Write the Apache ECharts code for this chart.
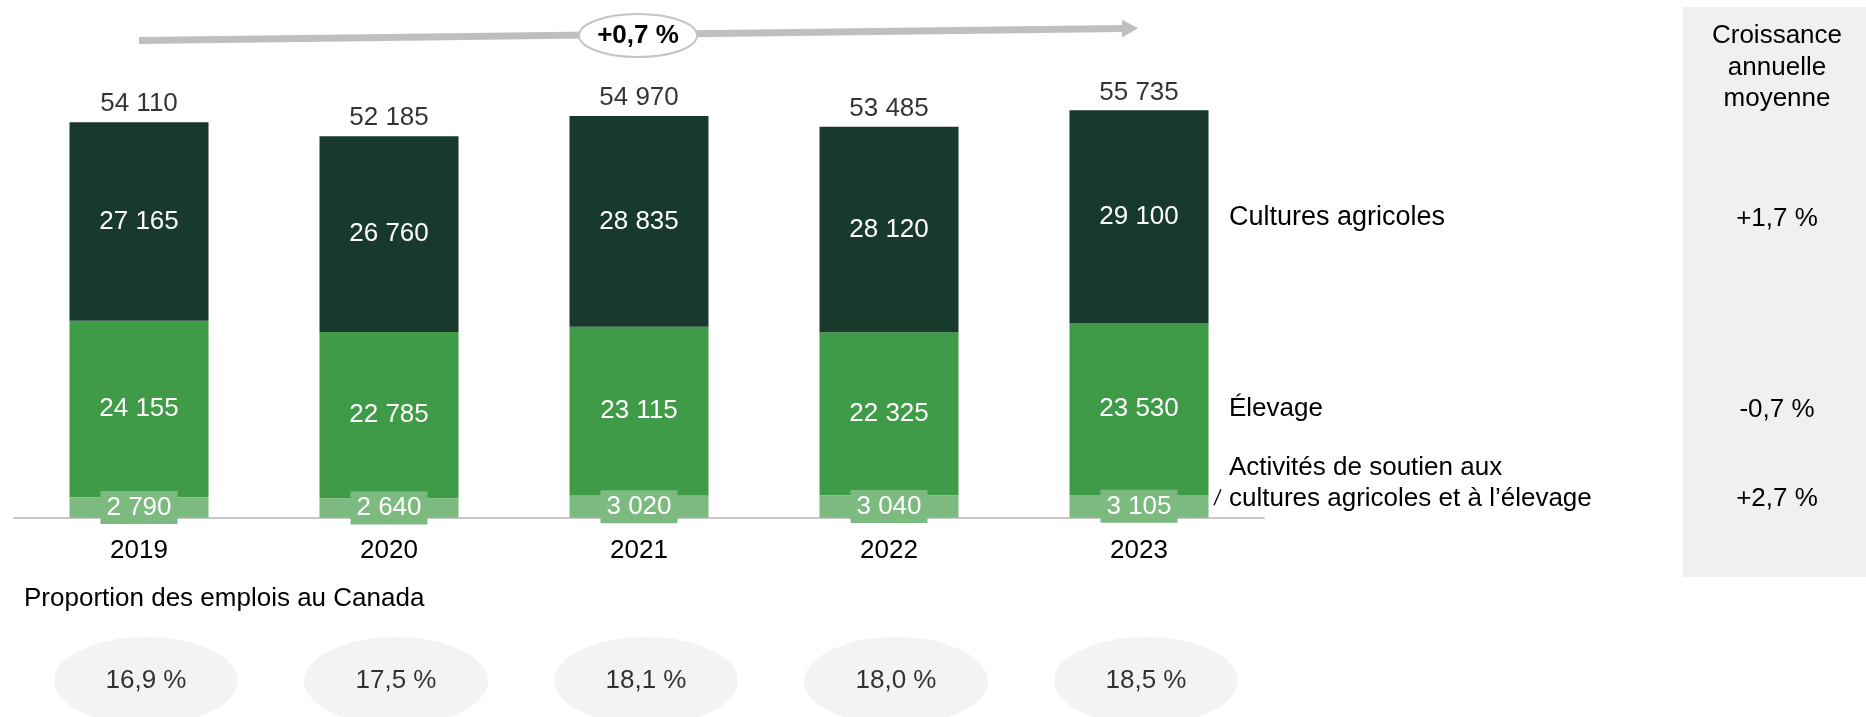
<!DOCTYPE html>
<html>
<head>
<meta charset="utf-8">
<script src="https://cdn.jsdelivr.net/npm/echarts@6/dist/echarts.min.js"></script>
<style>
html,body{margin:0;padding:0;background:#fff;}
#c{width:1866px;height:717px;}
</style>
</head>
<body>
<div id="c"></div>
<script>
const years = ['2019', '2020', '2021', '2022', '2023'];
const cultures = [27165, 26760, 28835, 28120, 29100];
const elevage = [24155, 22785, 23115, 22325, 23530];
const soutien = [2790, 2640, 3020, 3040, 3105];
const totals = [54110, 52185, 54970, 53485, 55735];
const proportions = [16.9, 17.5, 18.1, 18.0, 18.5];
const seriesNames = ['Cultures agricoles', 'Élevage', 'Activités de soutien aux', 'cultures agricoles et à l’élevage'];
const growth = ['+1,7 %', '-0,7 %', '+2,7 %'];
const cagrTotal = '+0,7 %';
const panelTitle = ['Croissance', 'annuelle', 'moyenne'];
const proportionTitle = 'Proportion des emplois au Canada';

const FONT = "'Liberation Sans', Arial, sans-serif";
const FS = 26;
const C_DARK = '#173a2d', C_MID = '#409b48', C_LIGHT = '#7cba80';

function fmt(v) {
  return String(v).replace(/\B(?=(\d{3})+(?!\d))/g, ' ');
}
function fmtPct(v) {
  return v.toFixed(1).replace('.', ',') + ' %';
}

const chart = echarts.init(document.getElementById('c'), null, {renderer: 'canvas', width: 1866, height: 717});

const option = {
  animation: false,
  backgroundColor: '#fff',
  textStyle: {fontFamily: FONT},
  grid: [
    {left: 14, width: 1250, top: 79.2, height: 438.5},
    {left: 21, width: 1250, top: 671, height: 20}
  ],
  xAxis: [
    {
      type: 'category', data: years, gridIndex: 0,
      axisLine: {show: true, lineStyle: {color: '#c8c8c8', width: 2}},
      axisTick: {show: false},
      axisLabel: {fontSize: FS, color: '#000', margin: 20, fontFamily: FONT}
    },
    {type: 'category', data: years, gridIndex: 1, show: false}
  ],
  yAxis: [
    {type: 'value', gridIndex: 0, min: 0, max: 60000, show: false, splitLine: {show: false}},
    {type: 'value', gridIndex: 1, min: 0, max: 1, show: false, splitLine: {show: false}}
  ],
  series: [
    {
      name: seriesNames[2], type: 'bar', stack: 'total', data: soutien, barWidth: 139,
      itemStyle: {color: C_LIGHT}, z: 3,
      label: {
        show: true, position: 'inside', color: '#fff', fontSize: FS, fontFamily: FONT,
        backgroundColor: C_LIGHT, padding: [4, 6, 3, 6], lineHeight: 26,
        formatter: p => fmt(p.value)
      }
    },
    {
      name: seriesNames[1], type: 'bar', stack: 'total', data: elevage, barWidth: 139,
      itemStyle: {color: C_MID}, z: 2,
      label: {show: true, position: 'inside', color: '#fff', fontSize: FS, fontFamily: FONT, formatter: p => fmt(p.value)}
    },
    {
      name: seriesNames[0], type: 'bar', stack: 'total', data: cultures, barWidth: 139,
      itemStyle: {color: C_DARK}, z: 2,
      label: {show: true, position: 'inside', color: '#fff', fontSize: FS, fontFamily: FONT, formatter: p => fmt(p.value)}
    },
    {
      name: 'Total', type: 'scatter', data: totals, symbolSize: 0, z: 4,
      label: {show: true, position: 'top', distance: 5, color: '#000', fontSize: FS, fontFamily: FONT, formatter: p => fmt(p.value)}
    },
    {
      name: 'Proportion', type: 'scatter', xAxisIndex: 1, yAxisIndex: 1,
      data: proportions.map((p, i) => [i, 0.5, p]),
      symbol: 'circle', symbolSize: [184, 88],
      itemStyle: {color: '#f0f0f0'},
      label: {show: true, position: 'inside', color: '#000', fontSize: FS, fontFamily: FONT, formatter: p => fmtPct(p.value[2])}
    }
  ]
};
chart.setOption(option);

// Annotation positions derived from the axes
const px = (i, v) => chart.convertToPixel({gridIndex: 0}, [i, v]);
const last = years.length - 1;
const yCult = px(last, soutien[last] + elevage[last] + cultures[last] / 2)[1];
const yElev = px(last, soutien[last] + elevage[last] / 2)[1];
const ySout = px(last, soutien[last] / 2)[1];
const xFirst = px(0, 0)[0];
const xLast = px(last, 0)[0];
const xMid = px(2, 0)[0];
const labelX = 1229;
const panelX = 1777;

const txt = (text, x, y, align, extra, z) => ({
  type: 'text', x: x, y: y, z: z || 10,
  style: Object.assign({text: text, fill: '#000', font: FS + 'px ' + FONT, textAlign: align, textVerticalAlign: 'middle'}, extra || {})
});

const arrowY0 = 40.5, arrowY1 = 28.3;
const shaftEndX = xLast - 17;
const slope = (arrowY1 - arrowY0) / (xLast - xFirst);
const yAt = x => arrowY0 + slope * (x - xFirst);

chart.setOption({
  graphic: [
    {type: 'rect', shape: {x: 1683, y: 7, width: 190, height: 570}, style: {fill: '#f0f0f0'}, z: 0},
    txt(panelTitle[0], panelX, 36, 'center'),
    txt(panelTitle[1], panelX, 68, 'center'),
    txt(panelTitle[2], panelX, 99, 'center'),
    txt(growth[0], panelX, yCult + 2, 'center'),
    txt(growth[1], panelX, yElev + 1, 'center'),
    txt(growth[2], panelX, ySout - 8, 'center'),
    txt(seriesNames[0], labelX, yCult + 1, 'left', {font: '27px ' + FONT}),
    txt(seriesNames[1], labelX, yElev, 'left'),
    txt(seriesNames[2], labelX, ySout - 39, 'left'),
    txt(seriesNames[3], labelX, ySout - 8, 'left'),
    {type: 'line', z: 10, shape: {x1: 1214, y1: ySout - 1, x2: 1221, y2: ySout - 17}, style: {stroke: '#000', lineWidth: 1.3}},
    txt(proportionTitle, 24, 599, 'left'),
    {type: 'line', z: 10, shape: {x1: xFirst, y1: arrowY0, x2: shaftEndX, y2: yAt(shaftEndX)}, style: {stroke: '#bfbfbf', lineWidth: 7}},
    {type: 'polygon', z: 10, shape: {points: [[shaftEndX, yAt(shaftEndX) - 9], [xLast - 1, arrowY1], [shaftEndX, yAt(shaftEndX) + 9]]}, style: {fill: '#bfbfbf'}},
    {type: 'ellipse', z: 11, shape: {cx: xMid - 1, cy: 35.5, rx: 59, ry: 21.5}, style: {fill: '#fff', stroke: '#c4c4c4', lineWidth: 2}},
    txt(cagrTotal, xMid - 1, 36, 'center', {font: 'bold ' + FS + 'px ' + FONT}, 20)
  ]
});
</script>
</body>
</html>
